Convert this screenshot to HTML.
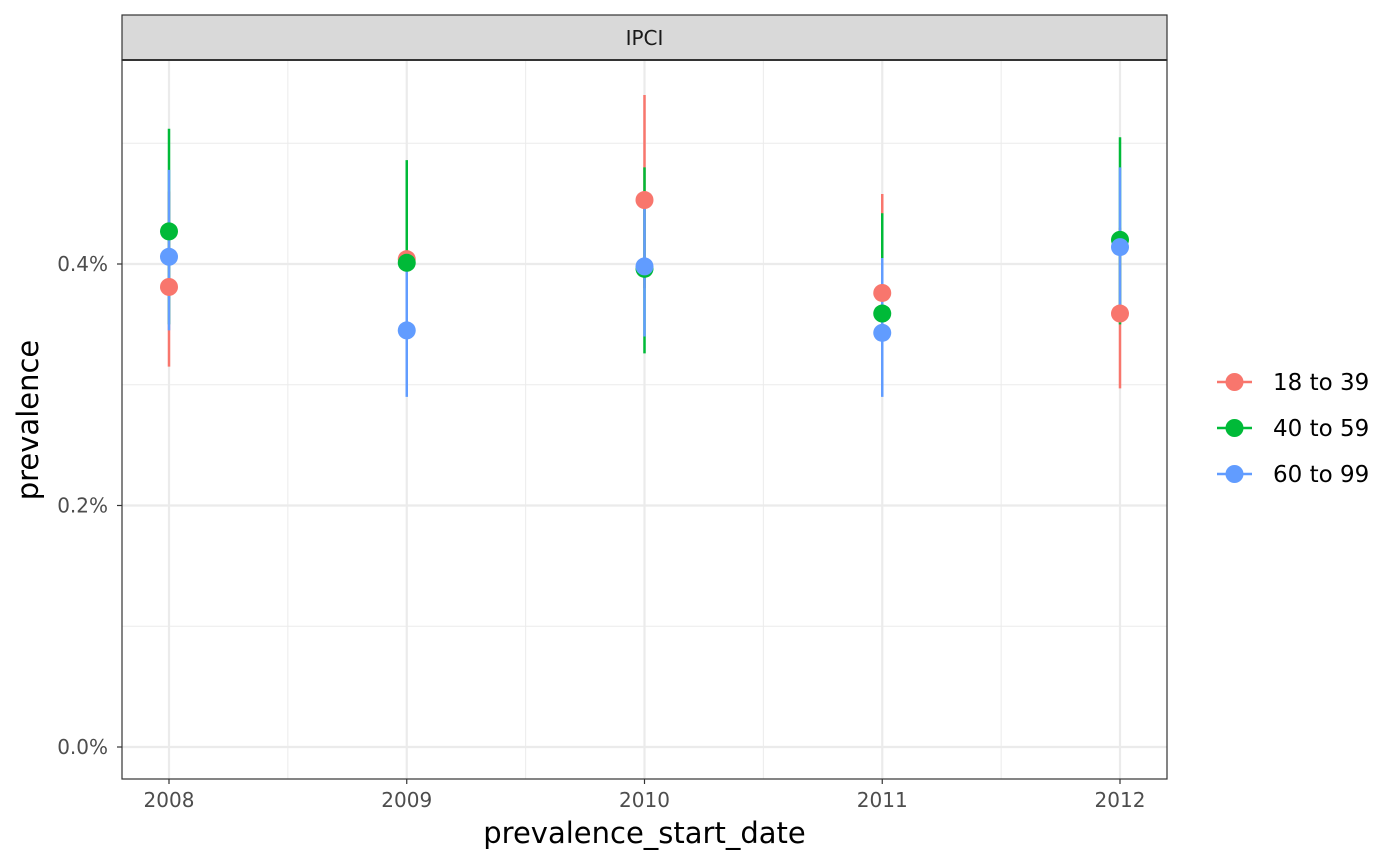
<!DOCTYPE html>
<html><head><meta charset="utf-8"><style>body{margin:0;background:#fff}svg{display:block;font-family:"DejaVu Sans","Liberation Sans",sans-serif}</style></head>
<body>
<svg id="chart" width="1400" height="865"></svg>
<script>
const years=[2008,2009,2010,2011,2012];
const groups=["18 to 39","40 to 59","60 to 99"];
const colors=["#F8766D","#00BA38","#619CFF"];
const est=[[0.381,0.404,0.453,0.376,0.359],[0.427,0.401,0.396,0.359,0.420],[0.406,0.345,0.398,0.343,0.414]];
const lower=[[0.315,0.34,0.38,0.31,0.297],[0.35,0.335,0.326,0.30,0.350],[0.345,0.290,0.34,0.290,0.355]];
const upper=[[0.46,0.47,0.54,0.458,0.43],[0.512,0.486,0.480,0.442,0.505],[0.478,0.40,0.46,0.405,0.480]];
const yTicks=[0,0.2,0.4];
const yTickLabels=["0.0%","0.2%","0.4%"];
const yMinor=[0.1,0.3,0.5];
const NS="http://www.w3.org/2000/svg";
const svg=document.getElementById('chart');
const L=122,R=1167,T=60,B=779;
const x=v=>169+(v-2008)*237.75;
const y=v=>747-v*1207.5;
function mk(t,a,p){const e=document.createElementNS(NS,t);for(const k in a)e.setAttribute(k,a[k]);(p||svg).appendChild(e);return e;}
mk('rect',{x:L,y:T,width:R-L,height:B-T,fill:'#fff'});
yMinor.forEach(v=>{const l=mk('line',{x1:L,x2:R,y1:y(v),y2:y(v),stroke:'#EBEBEB','stroke-width':1});});
for(let i=0;i<years.length-1;i++){const xv=x(years[i]+0.5);const l=mk('line',{x1:xv,x2:xv,y1:T,y2:B,stroke:'#EBEBEB','stroke-width':1});}
yTicks.forEach((v,i)=>{const l=mk('line',{x1:L,x2:R,y1:y(v),y2:y(v),stroke:'#EBEBEB','stroke-width':2.2});
mk('line',{x1:L-5,x2:L,y1:y(v),y2:y(v),stroke:'#333','stroke-width':1.2});
const t=mk('text',{x:L-14,y:y(v)+7,'text-anchor':'end','font-size':20,fill:'#4D4D4D'});t.textContent=yTickLabels[i];});
years.forEach(yr=>{const l=mk('line',{x1:x(yr),x2:x(yr),y1:T,y2:B,stroke:'#EBEBEB','stroke-width':2.2});
mk('line',{x1:x(yr),x2:x(yr),y1:B,y2:B+5,stroke:'#333','stroke-width':1.2});
const t=mk('text',{x:x(yr),y:B+28,'text-anchor':'middle','font-size':20,fill:'#4D4D4D'});t.textContent=yr;});
groups.forEach((g,gi)=>years.forEach((yr,i)=>{const l=mk('line',{x1:x(yr),x2:x(yr),y1:y(lower[gi][i]),y2:y(upper[gi][i]),stroke:colors[gi],'stroke-width':2.5});}));
groups.forEach((g,gi)=>years.forEach((yr,i)=>{const c=mk('circle',{cx:x(yr),cy:y(est[gi][i]),r:9,fill:colors[gi]});}));
mk('rect',{x:L,y:T,width:R-L,height:B-T,fill:'none',stroke:'#333','stroke-width':1.2});
const s=mk('rect',{x:L,y:15,width:R-L,height:45,fill:'#D9D9D9',stroke:'#333','stroke-width':1.2});
mk('line',{x1:L,x2:R,y1:60,y2:60,stroke:'#333','stroke-width':2});
const st=mk('text',{x:(L+R)/2,y:45,'text-anchor':'middle','font-size':20,fill:'#1A1A1A'});st.textContent='IPCI';
const xt=mk('text',{x:(L+R)/2,y:843,'text-anchor':'middle','font-size':29,fill:'#000'});xt.textContent='prevalence_start_date';
const yt=mk('text',{x:38,y:420,'text-anchor':'middle','font-size':29,fill:'#000',transform:'rotate(-90 38 420)'});yt.textContent='prevalence';
groups.forEach((g,gi)=>{const gy=382+gi*46;const gr=mk('g',{});
mk('line',{x1:1217,x2:1252,y1:gy,y2:gy,stroke:colors[gi],'stroke-width':2.5},gr);
mk('circle',{cx:1234.5,cy:gy,r:9,fill:colors[gi]},gr);
const t=mk('text',{x:1273,y:gy+8,'font-size':23,fill:'#000'},gr);t.textContent=g;});
</script>
</body></html>
